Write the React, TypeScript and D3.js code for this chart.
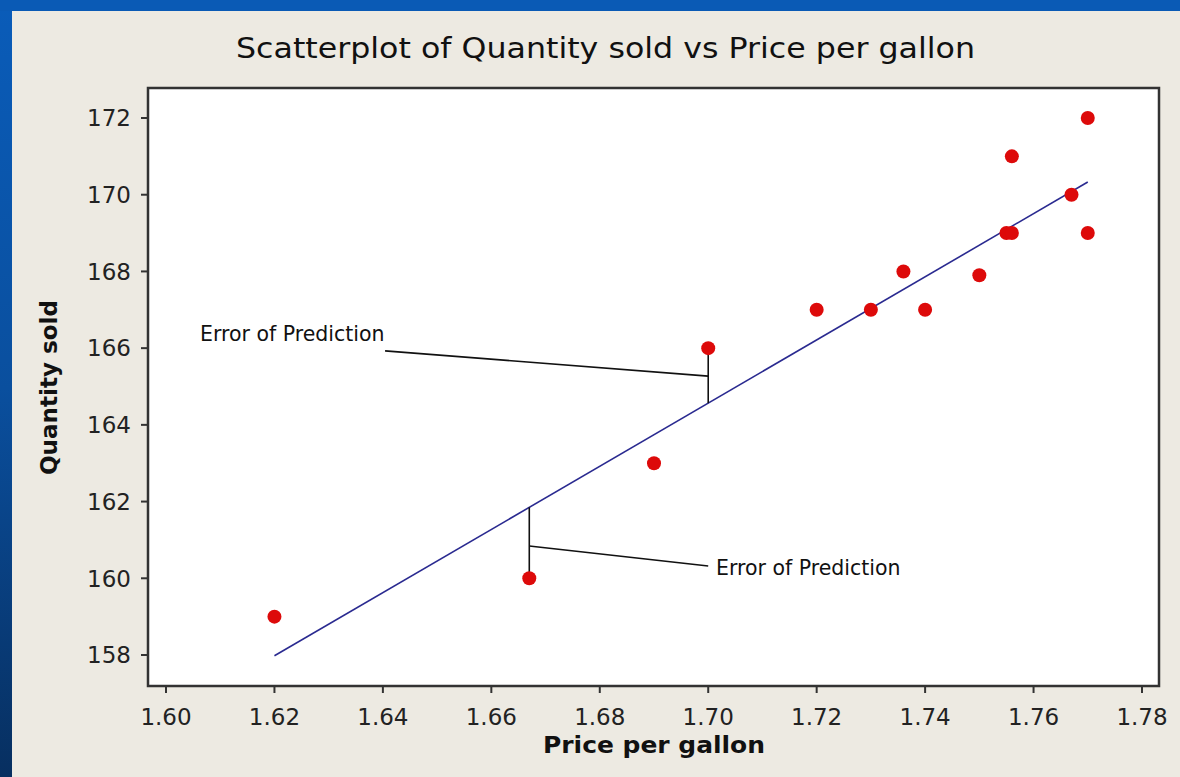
import React from "react";
import * as d3 from "d3";

const priceValues = [1.62, 1.667, 1.69, 1.7, 1.72, 1.73, 1.736, 1.74, 1.75, 1.755, 1.756, 1.756, 1.767, 1.77, 1.77];
const quantityValues = [159, 160, 163, 166, 167, 167, 168, 167, 167.9, 169, 169, 171, 170, 172, 169];
const fitX = [1.62, 1.77];
const fitY = [157.98, 170.33];
const xTicks = [1.6, 1.62, 1.64, 1.66, 1.68, 1.7, 1.72, 1.74, 1.76, 1.78];
const yTicks = [158, 160, 162, 164, 166, 168, 170, 172];
const titleText = "Scatterplot of Quantity sold vs Price per gallon";
const xLabel = "Price per gallon";
const yLabel = "Quantity sold";
const annotationLabel = "Error of Prediction";

const W = 1180;
const H = 777;
const frame = { left: 148, top: 88, right: 1159, bottom: 686 };
const FONT = "'DejaVu Sans', Verdana, sans-serif";

export default function App() {
  const x = d3.scaleLinear().domain([1.6, 1.78]).range([166, 1142]);
  const y = d3.scaleLinear().domain([158, 172]).range([655, 118]);
  const fit = (v: number) => fitY[0] + ((fitY[1] - fitY[0]) / (fitX[1] - fitX[0])) * (v - fitX[0]);
  const line = d3.line<[number, number]>().x((d) => x(d[0])).y((d) => y(d[1]));
  const fitPts: [number, number][] = [[fitX[0], fitY[0]], [fitX[1], fitY[1]]];

  const a1x = priceValues[3];
  const a1y = quantityValues[3];
  const a2x = priceValues[1];
  const a2y = quantityValues[1];

  return (
    <svg width={W} height={H} style={{ position: "absolute", left: 0, top: 0, display: "block" }}>
      <defs>
        <linearGradient id="bg" x1="0" y1="0" x2="0" y2="1">
          <stop offset="0" stopColor="#0a5cb9" />
          <stop offset="0.5" stopColor="#0a4f9e" />
          <stop offset="1" stopColor="#072f60" />
        </linearGradient>
      </defs>
      <rect x={0} y={0} width={W} height={H} fill="url(#bg)" />
      <rect x={0} y={0} width={W} height={11} fill="#0a5ab5" />
      <rect x={12} y={11} width={W - 12} height={H - 11} fill="#edeae2" />
      <text
        x={236}
        y={58}
        textLength={739}
        lengthAdjust="spacingAndGlyphs"
        fontFamily={FONT}
        fontSize={29}
        fill="#111"
      >
        {titleText}
      </text>
      <rect
        x={frame.left}
        y={frame.top}
        width={frame.right - frame.left}
        height={frame.bottom - frame.top}
        fill="#ffffff"
        stroke="#333"
        strokeWidth={2.5}
      />
      {yTicks.map((t) => (
        <g key={"y" + t}>
          <line x1={frame.left - 7} x2={frame.left} y1={y(t)} y2={y(t)} stroke="#333" strokeWidth={2} />
          <text x={131} y={y(t)} dy="0.36em" textAnchor="end" fontFamily={FONT} fontSize={23} fill="#222">
            {t}
          </text>
        </g>
      ))}
      {xTicks.map((t) => (
        <g key={"x" + t}>
          <line x1={x(t)} x2={x(t)} y1={frame.bottom} y2={frame.bottom + 7} stroke="#333" strokeWidth={2} />
          <text x={x(t)} y={725} textAnchor="middle" fontFamily={FONT} fontSize={23} fill="#222">
            {t.toFixed(2)}
          </text>
        </g>
      ))}
      <text
        x={543}
        y={753}
        textLength={222}
        lengthAdjust="spacingAndGlyphs"
        fontFamily={FONT}
        fontWeight="bold"
        fontSize={23}
        fill="#111"
      >
        {xLabel}
      </text>
      <text
        transform={`translate(57, 475) rotate(-90)`}
        textLength={175}
        lengthAdjust="spacingAndGlyphs"
        fontFamily={FONT}
        fontWeight="bold"
        fontSize={23}
        fill="#111"
      >
        {yLabel}
      </text>
      <path d={line(fitPts) || ""} fill="none" stroke="#2a2a90" strokeWidth={1.6} />
      <line x1={x(a1x)} x2={x(a1x)} y1={y(a1y)} y2={y(fit(a1x))} stroke="#111" strokeWidth={1.6} />
      <line x1={x(1.6404)} y1={y(165.93)} x2={x(a1x)} y2={y(165.27)} stroke="#111" strokeWidth={1.6} />
      <text x={200} y={341} fontFamily={FONT} fontSize={20.5} fill="#111">
        {annotationLabel}
      </text>
      <line x1={x(a2x)} x2={x(a2x)} y1={y(fit(a2x))} y2={y(a2y)} stroke="#111" strokeWidth={1.6} />
      <line x1={x(a2x)} y1={y(160.84)} x2={x(1.7)} y2={y(160.32)} stroke="#111" strokeWidth={1.6} />
      <text x={716} y={575} fontFamily={FONT} fontSize={20.5} fill="#111">
        {annotationLabel}
      </text>
      {priceValues.map((p, i) => (
        <circle key={i} cx={x(p)} cy={y(quantityValues[i])} r={7} fill="#dd0a0a" />
      ))}
    </svg>
  );
}
